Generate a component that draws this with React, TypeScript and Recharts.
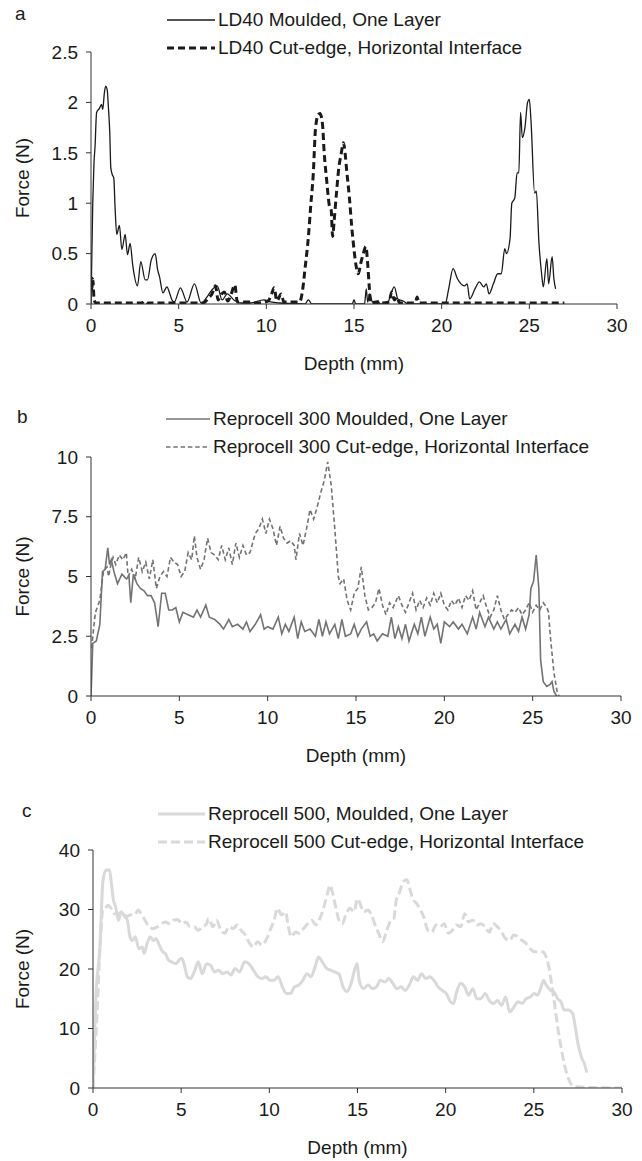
import React from 'react';
import { LineChart, Line, XAxis, YAxis } from 'recharts';

type P = [number, number];

const xTicks = [0, 5, 10, 15, 20, 25, 30];
const aTicks = [0, 0.5, 1, 1.5, 2, 2.5];
const bTicks = [0, 2.5, 5, 7.5, 10];
const cTicks = [0, 10, 20, 30, 40];

const aLegend = ['LD40 Moulded, One Layer', 'LD40 Cut-edge, Horizontal Interface'];
const bLegend = ['Reprocell 300 Moulded, One Layer', 'Reprocell 300 Cut-edge, Horizontal Interface'];
const cLegend = ['Reprocell 500, Moulded, One Layer', 'Reprocell 500 Cut-edge, Horizontal Interface'];

const ld40Moulded: P[] = [
  [0, 0], [0.1, 1.0], [0.17, 1.4], [0.23, 1.56], [0.32, 1.9], [0.48, 1.94], [0.6, 1.98], [0.67, 1.93], [0.76, 2.09],
  [0.84, 2.16], [0.92, 2.13], [0.99, 1.96], [1.07, 1.7], [1.13, 1.35], [1.22, 1.28], [1.3, 1.25], [1.37, 0.97],
  [1.47, 0.69], [1.62, 0.78], [1.76, 0.54], [1.95, 0.69], [2.08, 0.49], [2.23, 0.6], [2.39, 0.37], [2.65, 0.18],
  [2.84, 0.42], [3.09, 0.24], [3.22, 0.24], [3.44, 0.44], [3.66, 0.5], [3.8, 0.34], [3.91, 0.27], [4.1, 0.11],
  [4.33, 0.17], [4.48, 0.11], [4.62, 0.04], [4.75, 0.02], [5.1, 0.16], [5.48, 0.02], [5.9, 0.2], [6.28, 0.01],
  [6.62, 0.07], [6.9, 0.14], [7.2, 0.18], [7.48, 0.04], [7.77, 0.1], [8.15, 0.04], [8.53, 0.01], [9.1, 0.01],
  [9.86, 0.04], [10.25, 0.02], [10.8, 0.01], [12.2, 0.0], [12.4, 0.04], [12.6, 0.0], [14.9, 0.0], [15.0, 0.04],
  [15.1, 0.0], [15.6, 0.0], [15.7, 0.15], [15.78, 0.02], [15.9, 0.1], [16.05, 0.02], [16.3, 0.03], [16.5, 0.0],
  [16.9, 0.0], [17.1, 0.1], [17.3, 0.17], [17.5, 0.05], [17.8, 0.03], [18.1, 0.0], [20.2, 0.0], [20.4, 0.15],
  [20.65, 0.35], [20.9, 0.25], [21.1, 0.2], [21.3, 0.18], [21.45, 0.2], [21.6, 0.05], [21.9, 0.15], [22.15, 0.22],
  [22.4, 0.17], [22.55, 0.2], [22.7, 0.1], [22.95, 0.2], [23.2, 0.3], [23.4, 0.3], [23.6, 0.55], [23.7, 0.5],
  [23.9, 0.65], [24.0, 1.0], [24.17, 1.05], [24.3, 1.3], [24.4, 1.3], [24.5, 1.9], [24.6, 1.65], [24.75, 1.75],
  [24.9, 2.0], [25.0, 2.03], [25.1, 1.8], [25.3, 1.1], [25.4, 1.12], [25.55, 0.6], [25.7, 0.3], [25.8, 0.17],
  [26.0, 0.45], [26.1, 0.2], [26.3, 0.47], [26.4, 0.25], [26.5, 0.15],
];

const ld40CutEdge: P[] = [
  [0, 0.27], [0.05, 0.15], [0.1, 0.25], [0.18, 0.04], [0.28, 0.01], [1.5, 0.01], [2.9, 0.01], [3.05, 0.03],
  [3.2, 0.01], [6.4, 0.01], [6.7, 0.06], [6.9, 0.1], [7.1, 0.18], [7.25, 0.04], [7.45, 0.1], [7.6, 0.12],
  [7.8, 0.03], [8.0, 0.1], [8.2, 0.19], [8.35, 0.02], [9.0, 0.02], [9.5, 0.01], [10.1, 0.03], [10.3, 0.1],
  [10.45, 0.16], [10.6, 0.03], [10.85, 0.1], [11.0, 0.02], [11.9, 0.02], [12.07, 0.14], [12.2, 0.34], [12.4, 0.67],
  [12.53, 0.97], [12.68, 1.3], [12.8, 1.73], [12.96, 1.88], [13.06, 1.89], [13.2, 1.79], [13.3, 1.5], [13.44, 1.23],
  [13.6, 0.97], [13.7, 0.93], [13.78, 0.67], [13.87, 0.83], [14.0, 1.1], [14.14, 1.36], [14.26, 1.48], [14.4, 1.6],
  [14.49, 1.5], [14.58, 1.33], [14.73, 1.07], [14.87, 0.77], [15.0, 0.54], [15.1, 0.4], [15.25, 0.3], [15.38, 0.4],
  [15.53, 0.5], [15.68, 0.57], [15.78, 0.4], [15.87, 0.17], [15.95, 0.01], [16.3, 0.01], [16.45, 0.03], [16.6, 0.01],
  [17.0, 0.02], [17.15, 0.12], [17.3, 0.04], [17.45, 0.07], [17.6, 0.01], [18.5, 0.01], [18.6, 0.07], [18.7, 0.01],
  [27.0, 0.01],
];

const rc300Moulded: P[] = [
  [0, 0], [0.1, 2.2], [0.3, 2.3], [0.5, 3.0], [0.65, 5.2], [0.8, 5.3], [0.95, 6.2], [1.05, 5.5], [1.15, 5.7],
  [1.3, 5.2], [1.5, 4.7], [1.75, 5.1], [2.0, 4.9], [2.15, 5.0], [2.25, 3.9], [2.4, 5.1], [2.6, 4.7], [2.8, 4.5],
  [3.0, 4.4], [3.2, 4.2], [3.4, 4.2], [3.6, 3.9], [3.8, 2.9], [4.0, 4.3], [4.2, 4.3], [4.4, 3.6], [4.6, 3.6],
  [4.8, 3.7], [5.0, 3.1], [5.2, 3.5], [5.5, 3.4], [5.8, 3.3], [6.0, 3.6], [6.2, 3.3], [6.5, 3.8], [6.7, 3.3],
  [7.0, 3.2], [7.3, 3.0], [7.5, 2.8], [7.8, 3.2], [8.0, 2.9], [8.3, 3.0], [8.6, 2.8], [8.8, 3.1], [9.0, 2.7],
  [9.3, 3.0], [9.6, 3.4], [9.8, 2.8], [10.0, 2.9], [10.3, 2.8], [10.6, 3.3], [10.8, 2.6], [11.0, 3.0], [11.2, 2.7],
  [11.5, 3.3], [11.7, 2.4], [11.9, 3.1], [12.1, 2.7], [12.4, 2.8], [12.7, 2.5], [12.9, 3.2], [13.1, 2.5], [13.3, 3.1],
  [13.5, 2.6], [13.8, 3.0], [14.0, 2.4], [14.2, 3.2], [14.4, 2.5], [14.7, 2.6], [14.9, 3.0], [15.1, 2.5], [15.3, 2.8],
  [15.6, 3.1], [15.8, 2.5], [16.0, 2.6], [16.2, 2.3], [16.5, 2.6], [16.8, 2.5], [17.0, 3.3], [17.2, 2.4], [17.4, 2.9],
  [17.6, 2.4], [17.8, 3.0], [18.0, 2.3], [18.3, 3.0], [18.5, 2.6], [18.7, 3.3], [18.9, 2.5], [19.2, 3.3], [19.4, 2.8],
  [19.6, 3.0], [19.8, 2.2], [20.0, 3.1], [20.3, 2.9], [20.5, 3.1], [20.8, 2.8], [21.0, 3.0], [21.3, 2.6], [21.6, 3.3],
  [21.8, 2.8], [22.0, 3.5], [22.3, 2.9], [22.5, 3.3], [22.8, 2.8], [23.0, 3.1], [23.2, 2.8], [23.5, 3.2], [23.7, 2.6],
  [24.0, 3.0], [24.2, 2.7], [24.4, 3.3], [24.6, 2.8], [24.8, 3.4], [24.9, 4.5], [25.05, 4.8], [25.2, 5.9], [25.35, 4.5],
  [25.45, 1.5], [25.6, 0.6], [25.8, 0.4], [26.0, 0.5], [26.1, 0.6], [26.2, 0.2], [26.35, 0],
];

const rc300CutEdge: P[] = [
  [0.05, 2.0], [0.1, 2.5], [0.25, 3.5], [0.5, 4.0], [0.7, 5.2], [0.9, 5.4], [1.0, 5.0], [1.1, 5.4], [1.25, 5.8],
  [1.4, 5.5], [1.6, 5.9], [1.8, 5.7], [2.0, 6.0], [2.1, 5.0], [2.3, 5.3], [2.5, 4.9], [2.7, 5.8], [2.9, 5.2],
  [3.1, 5.6], [3.3, 4.9], [3.5, 5.7], [3.7, 4.5], [3.9, 5.0], [4.1, 5.2], [4.3, 5.0], [4.5, 5.8], [4.7, 5.6],
  [4.9, 5.5], [5.1, 5.0], [5.3, 5.2], [5.5, 6.0], [5.7, 5.7], [5.85, 6.7], [6.0, 5.8], [6.2, 5.3], [6.4, 5.7],
  [6.6, 6.6], [6.8, 6.0], [7.0, 5.9], [7.2, 5.7], [7.4, 6.3], [7.6, 5.7], [7.8, 6.2], [8.0, 5.5], [8.2, 6.4],
  [8.4, 5.8], [8.6, 6.3], [8.8, 5.9], [9.0, 6.0], [9.3, 6.8], [9.5, 7.0], [9.7, 7.4], [9.9, 6.8], [10.1, 7.4],
  [10.3, 7.0], [10.5, 6.3], [10.7, 7.1], [10.9, 6.6], [11.1, 6.4], [11.3, 6.5], [11.5, 6.3], [11.6, 5.7], [11.8, 6.8],
  [12.0, 6.3], [12.2, 7.0], [12.4, 7.8], [12.6, 7.4], [12.8, 7.9], [13.0, 8.5], [13.2, 9.0], [13.4, 9.8], [13.6, 8.8],
  [13.8, 7.0], [14.0, 5.0], [14.1, 4.7], [14.3, 4.9], [14.5, 4.0], [14.7, 3.6], [14.9, 4.3], [15.1, 4.5], [15.3, 5.4],
  [15.5, 4.2], [15.7, 3.6], [15.9, 3.7], [16.1, 3.9], [16.3, 4.5], [16.5, 3.8], [16.7, 3.4], [16.9, 3.9], [17.1, 3.7],
  [17.4, 4.2], [17.6, 3.8], [17.8, 3.5], [18.0, 3.9], [18.2, 4.3], [18.4, 3.6], [18.6, 4.0], [18.8, 3.7], [19.0, 4.1],
  [19.2, 3.8], [19.4, 4.3], [19.6, 3.9], [19.8, 4.3], [20.0, 3.8], [20.2, 3.6], [20.4, 4.0], [20.6, 3.8], [20.8, 4.1],
  [21.0, 3.7], [21.2, 4.2], [21.4, 4.0], [21.6, 4.4], [21.8, 3.6], [22.0, 3.9], [22.2, 4.2], [22.4, 3.7], [22.6, 3.3],
  [22.8, 3.6], [23.0, 4.2], [23.2, 3.6], [23.4, 3.2], [23.6, 3.4], [23.8, 3.6], [24.0, 3.5], [24.2, 3.7], [24.4, 3.4],
  [24.6, 3.6], [24.8, 3.9], [25.0, 3.5], [25.2, 3.8], [25.4, 3.6], [25.6, 3.9], [25.8, 3.7], [25.9, 3.5], [26.0, 2.5],
  [26.2, 1.0], [26.4, 0.1], [26.5, 0],
];

const rc500Moulded: P[] = [
  [0, 0], [0.16, 15], [0.4, 24], [0.56, 34.7], [0.74, 36.6], [0.93, 36.7], [1.02, 35], [1.16, 31.6], [1.28, 30.5],
  [1.44, 28.2], [1.6, 29.6], [1.8, 28.8], [1.95, 28.2], [2.1, 25.4], [2.25, 24.8], [2.4, 25.4], [2.6, 23.4], [2.8, 23.7],
  [2.9, 22.6], [3.07, 24.3], [3.25, 25.4], [3.42, 24.8], [3.58, 25.1], [3.76, 24], [3.95, 22.9], [4.1, 22.6], [4.28, 21.5],
  [4.46, 21.2], [4.7, 20.9], [4.88, 21.5], [5.04, 21.8], [5.2, 20.4], [5.35, 18.7], [5.53, 18.4], [5.74, 19.5], [5.97, 21.2],
  [6.2, 19.2], [6.44, 20.9], [6.67, 20.6], [6.9, 19.5], [7.13, 19.8], [7.37, 19.2], [7.6, 19.5], [7.83, 19.0], [8.06, 20.1],
  [8.3, 19.5], [8.6, 21.2], [8.83, 20.9], [9.1, 19.8], [9.34, 18.7], [9.57, 18.4], [9.8, 18.7], [10.04, 18.1], [10.27, 18.1],
  [10.5, 18.7], [10.74, 17.0], [10.97, 15.9], [11.2, 15.9], [11.43, 17.0], [11.67, 17.3], [11.9, 18.1], [12.13, 19.2],
  [12.36, 18.7], [12.6, 20.4], [12.78, 22.0], [13.0, 21.2], [13.25, 20.1], [13.48, 19.8], [13.7, 19.5], [13.94, 19.2],
  [14.18, 17.0], [14.4, 16.2], [14.64, 17.6], [14.83, 19.8], [14.97, 20.9], [15.1, 18.1], [15.34, 16.7], [15.6, 17.3],
  [15.85, 16.7], [16.08, 17.0], [16.3, 18.1], [16.55, 17.8], [16.78, 18.4], [17.0, 17.6], [17.24, 16.7], [17.47, 17.0],
  [17.7, 16.4], [17.94, 17.3], [18.17, 18.7], [18.4, 18.1], [18.64, 19.2], [18.87, 18.4], [19.1, 18.7], [19.33, 18.1],
  [19.57, 17.0], [19.8, 16.4], [20.03, 15.9], [20.27, 14.5], [20.45, 14.2], [20.6, 15.9], [20.85, 17.6], [21.08, 17.0],
  [21.3, 15.6], [21.54, 16.7], [21.77, 15.0], [22.0, 15.0], [22.24, 15.9], [22.47, 14.7], [22.7, 14.2], [22.94, 14.7],
  [23.17, 13.9], [23.4, 15.3], [23.63, 12.8], [23.87, 13.6], [24.1, 14.5], [24.33, 14.2], [24.56, 15.0], [24.8, 15.3],
  [25.03, 15.9], [25.2, 15.6], [25.38, 16.7], [25.56, 18.1], [25.7, 17.3], [25.96, 16.4], [26.2, 15.9], [26.35, 15.0],
  [26.54, 14.5], [26.72, 13.1], [26.96, 13.1], [27.2, 12.5], [27.35, 10.3], [27.5, 7.5], [27.7, 5.2], [27.9, 3.8],
  [28.0, 2.6],
];

const rc500CutEdge: P[] = [
  [0, 0], [0.23, 12.5], [0.4, 23.7], [0.56, 29.9], [0.7, 30.2], [0.86, 30.7], [1.02, 30.2], [1.2, 29.3], [1.44, 29.3],
  [1.67, 29.6], [1.9, 28.8], [2.14, 29.1], [2.37, 29.1], [2.56, 29.9], [2.72, 29.3], [2.95, 28.2], [3.18, 27.1],
  [3.42, 26.8], [3.65, 27.1], [3.88, 27.6], [4.1, 27.9], [4.35, 27.6], [4.58, 28.2], [4.8, 28.3], [5.04, 27.6],
  [5.27, 27.9], [5.5, 27.1], [5.74, 27.1], [5.97, 26.5], [6.2, 27.1], [6.44, 27.6], [6.55, 28.5], [6.8, 27.1],
  [7.0, 28.2], [7.25, 26.5], [7.48, 26.0], [7.7, 27.1], [7.95, 26.8], [8.18, 27.4], [8.4, 26.5], [8.65, 25.7],
  [8.88, 24.3], [9.1, 23.7], [9.34, 24.6], [9.57, 24.0], [9.8, 24.8], [10.04, 26.5], [10.27, 28.2], [10.46, 30.2],
  [10.7, 29.1], [10.92, 29.6], [11.08, 27.1], [11.25, 25.4], [11.48, 26.2], [11.7, 26.0], [11.94, 26.8], [12.18, 27.6],
  [12.4, 28.2], [12.64, 27.4], [12.87, 28.5], [13.1, 30.5], [13.3, 32.7], [13.44, 34.1], [13.57, 33.0], [13.76, 30.5],
  [13.95, 28.2], [14.13, 27.6], [14.34, 29.1], [14.57, 30.2], [14.8, 29.6], [15.0, 31.8], [15.15, 31.0], [15.34, 29.6],
  [15.57, 29.9], [15.76, 29.3], [15.97, 27.6], [16.2, 26.0], [16.43, 24.6], [16.66, 26.5], [16.9, 28.2], [17.06, 28.5],
  [17.2, 31.6], [17.36, 32.7], [17.6, 34.7], [17.8, 35.0], [17.94, 33.8], [18.13, 31.8], [18.36, 31.0], [18.52, 30.2],
  [18.75, 28.8], [18.99, 26.5], [19.22, 26.2], [19.45, 27.4], [19.68, 27.1], [19.92, 27.6], [20.15, 26.0], [20.38, 26.5],
  [20.6, 27.4], [20.85, 27.1], [21.08, 29.3], [21.3, 27.9], [21.54, 28.2], [21.77, 27.4], [22.0, 27.6], [22.24, 27.1],
  [22.47, 26.2], [22.7, 27.6], [22.94, 27.1], [23.17, 26.2], [23.4, 25.1], [23.63, 24.8], [23.87, 25.7], [24.1, 25.4],
  [24.33, 24.8], [24.56, 24.3], [24.8, 23.4], [25.03, 22.9], [25.26, 22.9], [25.5, 22.9], [25.66, 22.3], [25.85, 20.4],
  [26.03, 17.0], [26.2, 13.6], [26.35, 10.3], [26.54, 6.9], [26.77, 3.5], [27.0, 1.3], [27.24, 0.3], [27.47, 0.2],
  [28.17, 0.1], [29.56, 0], [30, 0],
];

const toRows = (pts: P[]) => pts.map(([d, f]) => ({ d, f }));

const FONT = '"Liberation Sans", Arial, Helvetica, sans-serif';
const FS = 19;
const TEXT = '#1a1a1a';
const AXIS = '#333333';

interface SeriesStyle {
  stroke: string;
  width: number;
  dash?: string;
  curve: 'monotone' | 'linear';
}

interface PanelProps {
  top: number;
  height: number;
  plotTop: number;
  yAxisWidth: number;
  right: number;
  yDomain: [number, number];
  yTicks: number[];
  letter: string;
  letterPos: [number, number];
  legend: string[];
  legendLeft: number;
  legendTop: number;
  legendLine: number;
  solid: P[];
  dashed: P[];
  solidStyle: SeriesStyle;
  dashedStyle: SeriesStyle;
  xLabelOffset: number;
}

const Panel = (p: PanelProps) => {
  const xAxisHeight = p.height - 304;
  const styles = [p.solidStyle, p.dashedStyle];
  return (
    <div style={{ position: 'absolute', left: 0, top: p.top, width: 642, height: p.height }}>
      <LineChart
        width={642}
        height={p.height}
        margin={{ top: p.plotTop, right: p.right, bottom: 0, left: 0 }}
        style={{ fontFamily: FONT }}
      >
        <XAxis
          dataKey="d"
          type="number"
          domain={[0, 30]}
          ticks={xTicks}
          interval={0}
          allowDataOverflow
          height={xAxisHeight}
          tickSize={5}
          tickMargin={10}
          axisLine={{ stroke: AXIS, strokeWidth: 1 }}
          tickLine={{ stroke: AXIS, strokeWidth: 1 }}
          tick={{ fill: TEXT, fontSize: FS, fontFamily: FONT }}
          label={{
            value: 'Depth (mm)',
            position: 'insideBottom',
            offset: p.xLabelOffset,
            fill: TEXT,
            fontSize: FS,
            fontFamily: FONT,
          }}
        />
        <YAxis
          type="number"
          domain={p.yDomain}
          ticks={p.yTicks}
          interval={0}
          allowDataOverflow
          width={p.yAxisWidth}
          tickSize={5}
          tickMargin={8}
          axisLine={{ stroke: AXIS, strokeWidth: 1 }}
          tickLine={{ stroke: AXIS, strokeWidth: 1 }}
          tick={{ fill: TEXT, fontSize: FS, fontFamily: FONT }}
          label={{
            value: 'Force (N)',
            angle: -90,
            position: 'insideLeft',
            offset: 22,
            fill: TEXT,
            fontSize: FS,
            fontFamily: FONT,
            style: { textAnchor: 'middle' },
          }}
        />
        <Line
          data={toRows(p.solid)}
          dataKey="f"
          type={p.solidStyle.curve}
          stroke={p.solidStyle.stroke}
          strokeWidth={p.solidStyle.width}
          dot={false}
          activeDot={false}
          isAnimationActive={false}
          name={p.legend[0]}
        />
        <Line
          data={toRows(p.dashed)}
          dataKey="f"
          type={p.dashedStyle.curve}
          stroke={p.dashedStyle.stroke}
          strokeWidth={p.dashedStyle.width}
          strokeDasharray={p.dashedStyle.dash}
          dot={false}
          activeDot={false}
          isAnimationActive={false}
          name={p.legend[1]}
        />
      </LineChart>
      <div
        style={{
          position: 'absolute',
          left: p.letterPos[0],
          top: p.letterPos[1],
          fontFamily: FONT,
          fontSize: FS,
          lineHeight: '20px',
          color: TEXT,
        }}
      >
        {p.letter}
      </div>
      <div style={{ position: 'absolute', left: p.legendLeft, top: p.legendTop }}>
        {p.legend.map((label, i) => (
          <div
            key={label}
            style={{ display: 'flex', alignItems: 'center', height: 28, whiteSpace: 'nowrap' }}
          >
            <svg width={p.legendLine} height={6} style={{ display: 'block', marginRight: 3 }}>
              <line
                x1={0}
                y1={3}
                x2={p.legendLine}
                y2={3}
                stroke={styles[i].stroke}
                strokeWidth={styles[i].width}
                strokeDasharray={styles[i].dash}
              />
            </svg>
            <span style={{ fontFamily: FONT, fontSize: FS, color: TEXT, lineHeight: '20px' }}>{label}</span>
          </div>
        ))}
      </div>
    </div>
  );
};

export default function App() {
  return (
    <div
      style={{
        position: 'absolute',
        left: 0,
        top: 0,
        width: 642,
        height: 1161,
        background: '#ffffff',
        overflow: 'hidden',
      }}
    >
      <Panel
        top={0}
        height={392}
        plotTop={52}
        yAxisWidth={91}
        right={25}
        yDomain={[0, 2.5]}
        yTicks={aTicks}
        letter="a"
        letterPos={[15, 4]}
        legend={aLegend}
        legendLeft={167}
        legendTop={6}
        legendLine={48}
        solid={ld40Moulded}
        dashed={ld40CutEdge}
        solidStyle={{ stroke: '#1a1a1a', width: 1.3, curve: 'monotone' }}
        dashedStyle={{ stroke: '#1a1a1a', width: 3, dash: '7 4', curve: 'monotone' }}
        xLabelOffset={22}
      />
      <Panel
        top={392}
        height={392}
        plotTop={65}
        yAxisWidth={91}
        right={21}
        yDomain={[0, 10]}
        yTicks={bTicks}
        letter="b"
        letterPos={[17, 15]}
        legend={bLegend}
        legendLeft={166}
        legendTop={13}
        legendLine={44}
        solid={rc300Moulded}
        dashed={rc300CutEdge}
        solidStyle={{ stroke: '#737373', width: 1.6, curve: 'linear' }}
        dashedStyle={{ stroke: '#737373', width: 1.6, dash: '4.5 2.8', curve: 'linear' }}
        xLabelOffset={22}
      />
      <Panel
        top={784}
        height={377}
        plotTop={66}
        yAxisWidth={93}
        right={20}
        yDomain={[0, 40]}
        yTicks={cTicks}
        letter="c"
        letterPos={[22, 17]}
        legend={cLegend}
        legendLeft={158}
        legendTop={16}
        legendLine={47}
        solid={rc500Moulded}
        dashed={rc500CutEdge}
        solidStyle={{ stroke: '#d9d9d9', width: 3, curve: 'monotone' }}
        dashedStyle={{ stroke: '#d9d9d9', width: 3, dash: '9 4', curve: 'monotone' }}
        xLabelOffset={7}
      />
    </div>
  );
}
